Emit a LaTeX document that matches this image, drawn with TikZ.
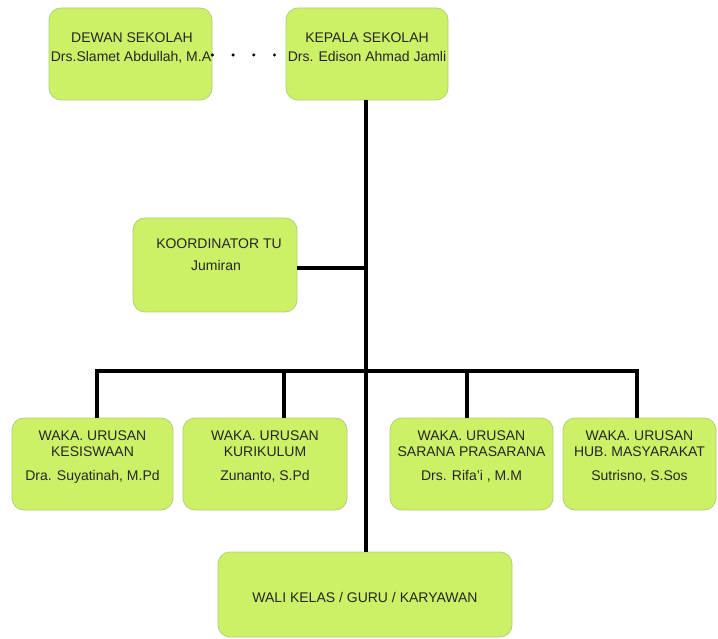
\documentclass[tikz,border=0pt]{standalone}
\usepackage{fontspec}
\setmainfont{Liberation Sans}
\definecolor{boxfill}{HTML}{CCF167}
\definecolor{boxline}{HTML}{B2CF7C}
\definecolor{txtcol}{HTML}{262626}
\begin{document}
\begin{tikzpicture}[x=1pt,y=-1pt,
  box/.style={draw=boxline, line width=0.8pt, fill=boxfill, rounded corners=12pt, inner sep=0pt},
  txt/.style={anchor=base, inner sep=0pt, text=txtcol, font=\fontsize{14}{16}\selectfont},
  conn/.style={draw=black, line width=3.2pt},
  dots/.style={draw=black, line width=3.4pt, line cap=round, dash pattern=on 0pt off 20.7pt}]
\fill[white] (0,0) rectangle (718,639);
\useasboundingbox (0,0) rectangle (718,639);
% boxes
\node[box, minimum width=163pt, minimum height=92pt] (dewan) at (130.5,54) {};
\node[box, minimum width=162pt, minimum height=92pt] (kepala) at (367,54) {};
\node[box, minimum width=164pt, minimum height=94pt] (koord) at (215,265) {};
\node[box, minimum width=161pt, minimum height=92pt] (b1) at (92.5,464) {};
\node[box, minimum width=164pt, minimum height=92pt] (b2) at (265,464) {};
\node[box, minimum width=163pt, minimum height=92pt] (b3) at (471.5,464) {};
\node[box, minimum width=153pt, minimum height=92pt] (b4) at (639.5,464) {};
\node[box, minimum width=294pt, minimum height=85pt] (wali) at (365,594.5) {};
% connectors
\coordinate (trunk) at (366,100);
\coordinate (bus) at (366,371);
\coordinate (d1) at (97,371);
\coordinate (d2) at (284,371);
\coordinate (d3) at (467,371);
\coordinate (d4) at (637,371);
\draw[conn] (trunk) -- (trunk |- wali.north);
\draw[conn] ([yshift=-3pt]koord.east) -- ([yshift=-3pt]koord.east -| trunk);
\draw[conn] (d1 |- b1.north) -- (d1) -- (d4) -- (d4 |- b4.north);
\draw[conn] (d2) -- (d2 |- b2.north);
\draw[conn] (d3) -- (d3 |- b3.north);
\draw[dots] ([yshift=-1pt]dewan.east) -- ([yshift=-1pt]kepala.west);
% texts
\node[txt] (t1a) at (132,42.5) {DEWAN SEKOLAH};
\node[txt] (t1b) at (131,61.5) {Drs.Slamet Abdullah, M.A};
\node[txt] (t2a) at (367,42.5) {KEPALA SEKOLAH};
\node[txt] (t2b) at (367,61.5) {Drs. Edison Ahmad Jamli};
\node[txt] (t3a) at (219,248.7) {KOORDINATOR TU};
\node[txt] (t3b) at (216,270.7) {Jumiran};
\node[txt] (t4a) at (92.5,440) {WAKA. URUSAN};
\node[txt] (t4b) at (92.5,456.5) {KESISWAAN};
\node[txt] (t4c) at (92.5,480.5) {Dra. Suyatinah, M.Pd};
\node[txt] (t5a) at (265,440) {WAKA. URUSAN};
\node[txt] (t5b) at (265,456.5) {KURIKULUM};
\node[txt] (t5c) at (265,480.5) {Zunanto, S.Pd};
\node[txt] (t6a) at (471.5,440) {WAKA. URUSAN};
\node[txt] (t6b) at (471.5,456.5) {SARANA PRASARANA};
\node[txt] (t6c) at (471.5,480.5) {Drs. Rifa'i , M.M};
\node[txt] (t7a) at (639.5,440) {WAKA. URUSAN};
\node[txt] (t7b) at (639.5,456.5) {HUB. MASYARAKAT};
\node[txt] (t7c) at (639.5,480.5) {Sutrisno, S.Sos};
\node[txt] (t8) at (365,602) {WALI KELAS / GURU / KARYAWAN};
\end{tikzpicture}
\end{document}
